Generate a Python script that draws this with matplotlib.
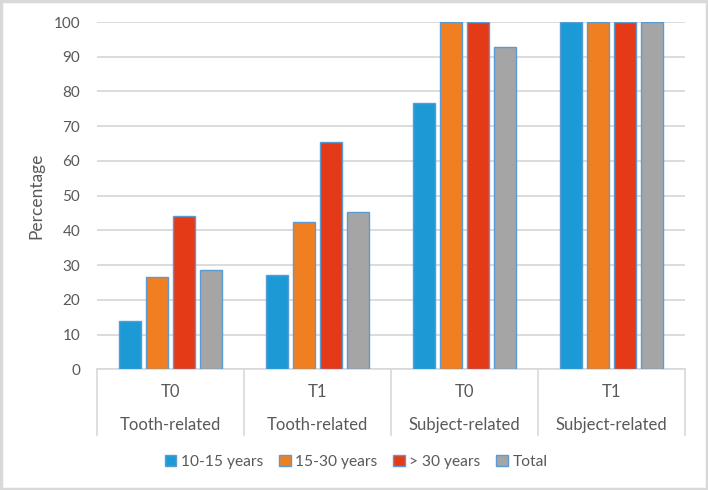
import matplotlib
matplotlib.use("Agg")
import matplotlib.pyplot as plt
from matplotlib.patches import Rectangle, Patch
from matplotlib.lines import Line2D
import numpy as np

plt.rcParams['font.family'] = ['Lato', 'DejaVu Sans']

times = ["T0", "T1", "T0", "T1"]
groups = ["Tooth-related", "Tooth-related", "Subject-related", "Subject-related"]
series_names = ["10-15 years", "15-30 years", "> 30 years", "Total"]
values = {
    "10-15 years": [13.8, 27.2, 76.8, 100],
    "15-30 years": [26.7, 42.4, 100, 100],
    "> 30 years": [44.1, 65.4, 100, 100],
    "Total": [28.7, 45.3, 92.8, 100],
}
colors = ["#1C9AD6", "#F07F22", "#E53A17", "#A5A5A5"]
edge = "#5B9BD5"
yticks = [0, 10, 20, 30, 40, 50, 60, 70, 80, 90, 100]

fig = plt.figure(figsize=(7.08, 4.90), dpi=100)
ax = fig.add_axes([0.137, 0.2463, 0.8305, 0.7088])

x = np.arange(len(times))
step = 0.183
width = 0.148
for i, name in enumerate(series_names):
    ax.bar(x + (i - 1.5) * step, values[name], width=width, color=colors[i],
           edgecolor=edge, linewidth=1.0, zorder=3)

ax.set_xlim(-0.5, len(times) - 0.5)
ax.set_ylim(0, 100)
ax.set_yticks(yticks)
ax.set_yticklabels([str(t) for t in yticks], fontsize=11, color="#595959")
ax.tick_params(axis='y', length=0, pad=12)
ax.set_xticks([])
for s in ["left", "right", "top"]:
    ax.spines[s].set_visible(False)
ax.spines["bottom"].set_color("#D9D9D9")
ax.spines["bottom"].set_linewidth(1.2)
ax.yaxis.grid(True, color="#D9D9D9", linewidth=1.3, zorder=0)
ax.set_axisbelow(True)
ax.set_ylabel("Percentage", fontsize=12.5, color="#595959", labelpad=7)

trans = ax.get_xaxis_transform()
for xi in np.arange(-0.5, len(times), 1.0):
    ax.add_line(Line2D([xi, xi], [0, -0.19], transform=trans, color="#D9D9D9",
                       linewidth=1.2, clip_on=False))
for i in range(len(times)):
    ax.text(i, -0.065, times[i], transform=trans, ha="center", va="center",
            fontsize=12, color="#595959")
    ax.text(i, -0.16, groups[i], transform=trans, ha="center", va="center",
            fontsize=12, color="#595959")

handles = [Patch(facecolor=colors[i], edgecolor=edge, linewidth=1.0, label=series_names[i])
           for i in range(len(series_names))]
fig.legend(handles=handles, loc="center", bbox_to_anchor=(0.503, 0.057), ncol=4,
           frameon=False, fontsize=11.2, handlelength=0.75, handleheight=0.75,
           handletextpad=0.3, columnspacing=1.0, labelcolor="#595959")

fig.patches.append(Rectangle((0.002, 0.003), 0.996, 0.994, transform=fig.transFigure,
                             fill=False, edgecolor="#D9D9D9", linewidth=2.5))

fig.savefig("out.png", dpi=100)
